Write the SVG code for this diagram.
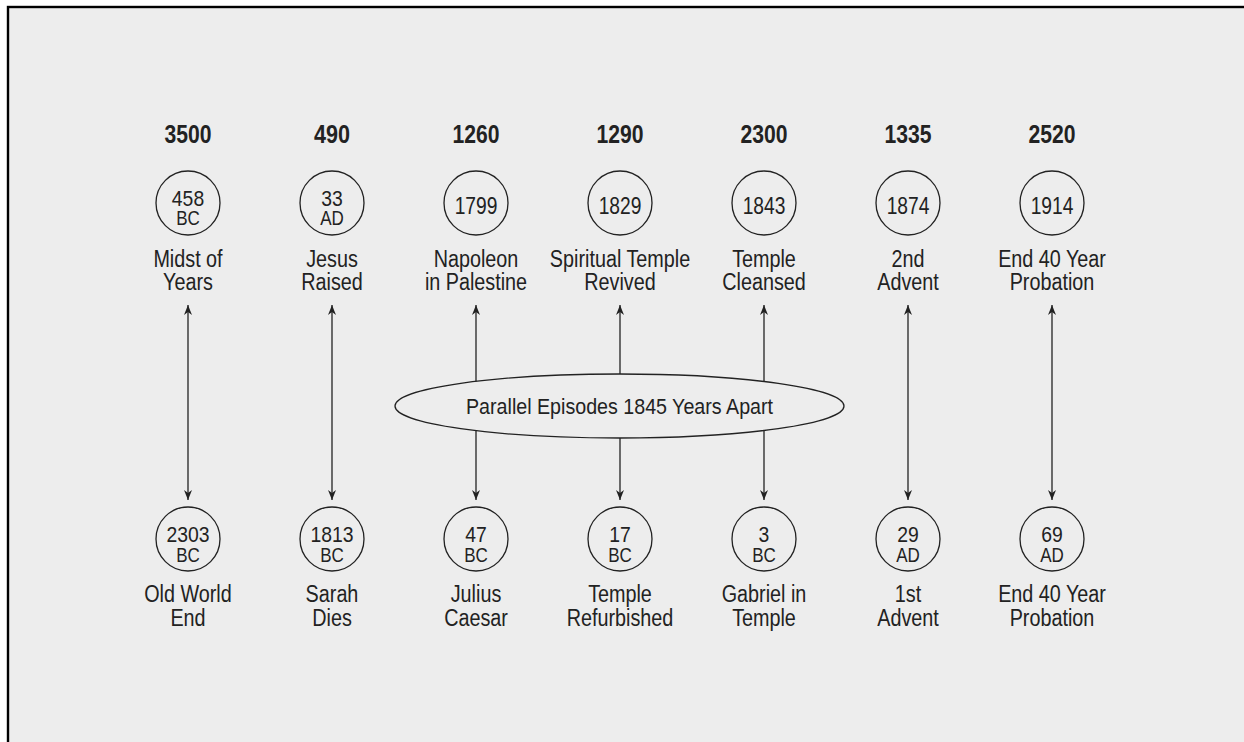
<svg xmlns="http://www.w3.org/2000/svg" width="1244" height="742" viewBox="0 0 1244 742">
<defs>
<style>
text{font-family:"Liberation Sans",Arial,sans-serif;fill:#222;text-anchor:middle}
.h{font-size:26px;font-weight:bold}
.n{font-size:22px}
.s{font-size:24px}
.u{font-size:20px}
.l{font-size:23px}
.e{font-size:22px}
circle,ellipse{fill:none;stroke:#222;stroke-width:1.3}
.a{stroke:#222;stroke-width:1.3;fill:none}
</style>
<marker id="ar" viewBox="0 0 10 10" refX="10" refY="5" markerWidth="10" markerHeight="12" markerUnits="userSpaceOnUse" orient="auto-start-reverse">
<path d="M0,1 L10,5 L0,9 L3,5 Z" fill="#222"/>
</marker>
</defs>
<rect x="0" y="0" width="1244" height="742" fill="#fff"/>
<rect x="8" y="7" width="1270" height="770" fill="#ededed" stroke="#000" stroke-width="2.4"/>
<g id="connectors">
<line class="a" x1="188" y1="305" x2="188" y2="500" marker-start="url(#ar)" marker-end="url(#ar)"/>
<line class="a" x1="332" y1="305" x2="332" y2="500" marker-start="url(#ar)" marker-end="url(#ar)"/>
<line class="a" x1="476" y1="305" x2="476" y2="381.5" marker-start="url(#ar)"/>
<line class="a" x1="476" y1="430.5" x2="476" y2="500" marker-end="url(#ar)"/>
<line class="a" x1="620" y1="305" x2="620" y2="374" marker-start="url(#ar)"/>
<line class="a" x1="620" y1="438" x2="620" y2="500" marker-end="url(#ar)"/>
<line class="a" x1="764" y1="305" x2="764" y2="381.5" marker-start="url(#ar)"/>
<line class="a" x1="764" y1="430.5" x2="764" y2="500" marker-end="url(#ar)"/>
<line class="a" x1="908" y1="305" x2="908" y2="500" marker-start="url(#ar)" marker-end="url(#ar)"/>
<line class="a" x1="1052" y1="305" x2="1052" y2="500" marker-start="url(#ar)" marker-end="url(#ar)"/>
</g>
<g id="headers">
<text class="h" x="188" y="143" textLength="47" lengthAdjust="spacingAndGlyphs">3500</text>
<text class="h" x="332" y="143" textLength="36" lengthAdjust="spacingAndGlyphs">490</text>
<text class="h" x="476" y="143" textLength="47" lengthAdjust="spacingAndGlyphs">1260</text>
<text class="h" x="620" y="143" textLength="47" lengthAdjust="spacingAndGlyphs">1290</text>
<text class="h" x="764" y="143" textLength="47" lengthAdjust="spacingAndGlyphs">2300</text>
<text class="h" x="908" y="143" textLength="47" lengthAdjust="spacingAndGlyphs">1335</text>
<text class="h" x="1052" y="143" textLength="47" lengthAdjust="spacingAndGlyphs">2520</text>
</g>
<g id="top-458">
<circle cx="188" cy="203" r="32"/>
<text class="n" transform="translate(188 206) scale(.88 1)">458</text>
<text class="u" transform="translate(188 225) scale(.85 1)">BC</text>
<text class="l" transform="translate(188 267) scale(.86 1)">Midst of</text>
<text class="l" transform="translate(188 290) scale(.86 1)">Years</text>
</g>
<g id="top-33">
<circle cx="332" cy="203" r="32"/>
<text class="n" transform="translate(332 206) scale(.88 1)">33</text>
<text class="u" transform="translate(332 225) scale(.85 1)">AD</text>
<text class="l" transform="translate(332 267) scale(.86 1)">Jesus</text>
<text class="l" transform="translate(332 290) scale(.86 1)">Raised</text>
</g>
<g id="top-1799">
<circle cx="476" cy="203" r="32"/>
<text class="s" transform="translate(476 213.5) scale(.8 1)">1799</text>
<text class="l" transform="translate(476 267) scale(.86 1)">Napoleon</text>
<text class="l" transform="translate(476 290) scale(.86 1)">in Palestine</text>
</g>
<g id="top-1829">
<circle cx="620" cy="203" r="32"/>
<text class="s" transform="translate(620 213.5) scale(.8 1)">1829</text>
<text class="l" transform="translate(620 267) scale(.86 1)">Spiritual Temple</text>
<text class="l" transform="translate(620 290) scale(.86 1)">Revived</text>
</g>
<g id="top-1843">
<circle cx="764" cy="203" r="32"/>
<text class="s" transform="translate(764 213.5) scale(.8 1)">1843</text>
<text class="l" transform="translate(764 267) scale(.86 1)">Temple</text>
<text class="l" transform="translate(764 290) scale(.86 1)">Cleansed</text>
</g>
<g id="top-1874">
<circle cx="908" cy="203" r="32"/>
<text class="s" transform="translate(908 213.5) scale(.8 1)">1874</text>
<text class="l" transform="translate(908 267) scale(.86 1)">2nd</text>
<text class="l" transform="translate(908 290) scale(.86 1)">Advent</text>
</g>
<g id="top-1914">
<circle cx="1052" cy="203" r="32"/>
<text class="s" transform="translate(1052 213.5) scale(.8 1)">1914</text>
<text class="l" transform="translate(1052 267) scale(.86 1)">End 40 Year</text>
<text class="l" transform="translate(1052 290) scale(.86 1)">Probation</text>
</g>
<g id="parallel">
<ellipse cx="619.5" cy="406" rx="224.5" ry="32"/>
<text class="e" x="619.5" y="413.5" textLength="307" lengthAdjust="spacingAndGlyphs">Parallel Episodes 1845 Years Apart</text>
</g>
<g id="bot-2303">
<circle cx="188" cy="539" r="32"/>
<text class="n" transform="translate(188 541.7) scale(.88 1)">2303</text>
<text class="u" transform="translate(188 561.5) scale(.85 1)">BC</text>
<text class="l" transform="translate(188 602) scale(.86 1)">Old World</text>
<text class="l" transform="translate(188 626) scale(.86 1)">End</text>
</g>
<g id="bot-1813">
<circle cx="332" cy="539" r="32"/>
<text class="n" transform="translate(332 541.7) scale(.88 1)">1813</text>
<text class="u" transform="translate(332 561.5) scale(.85 1)">BC</text>
<text class="l" transform="translate(332 602) scale(.86 1)">Sarah</text>
<text class="l" transform="translate(332 626) scale(.86 1)">Dies</text>
</g>
<g id="bot-47">
<circle cx="476" cy="539" r="32"/>
<text class="n" transform="translate(476 541.7) scale(.88 1)">47</text>
<text class="u" transform="translate(476 561.5) scale(.85 1)">BC</text>
<text class="l" transform="translate(476 602) scale(.86 1)">Julius</text>
<text class="l" transform="translate(476 626) scale(.86 1)">Caesar</text>
</g>
<g id="bot-17">
<circle cx="620" cy="539" r="32"/>
<text class="n" transform="translate(620 541.7) scale(.88 1)">17</text>
<text class="u" transform="translate(620 561.5) scale(.85 1)">BC</text>
<text class="l" transform="translate(620 602) scale(.86 1)">Temple</text>
<text class="l" transform="translate(620 626) scale(.86 1)">Refurbished</text>
</g>
<g id="bot-3">
<circle cx="764" cy="539" r="32"/>
<text class="n" transform="translate(764 541.7) scale(.88 1)">3</text>
<text class="u" transform="translate(764 561.5) scale(.85 1)">BC</text>
<text class="l" transform="translate(764 602) scale(.86 1)">Gabriel in</text>
<text class="l" transform="translate(764 626) scale(.86 1)">Temple</text>
</g>
<g id="bot-29">
<circle cx="908" cy="539" r="32"/>
<text class="n" transform="translate(908 541.7) scale(.88 1)">29</text>
<text class="u" transform="translate(908 561.5) scale(.85 1)">AD</text>
<text class="l" transform="translate(908 602) scale(.86 1)">1st</text>
<text class="l" transform="translate(908 626) scale(.86 1)">Advent</text>
</g>
<g id="bot-69">
<circle cx="1052" cy="539" r="32"/>
<text class="n" transform="translate(1052 541.7) scale(.88 1)">69</text>
<text class="u" transform="translate(1052 561.5) scale(.85 1)">AD</text>
<text class="l" transform="translate(1052 602) scale(.86 1)">End 40 Year</text>
<text class="l" transform="translate(1052 626) scale(.86 1)">Probation</text>
</g>
</svg>
